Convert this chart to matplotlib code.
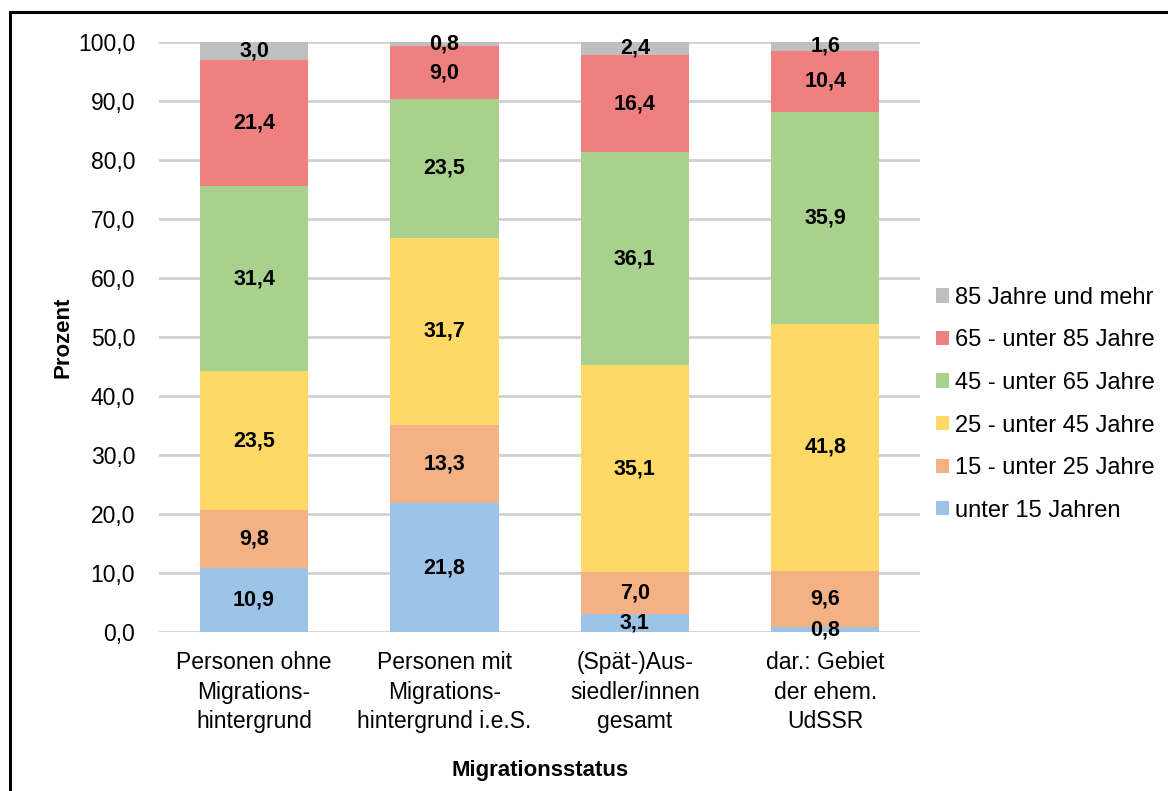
import numpy as np
import matplotlib
matplotlib.use("Agg")
import matplotlib.pyplot as plt
from matplotlib.lines import Line2D

plt.rcParams['font.family'] = ['Liberation Sans', 'DejaVu Sans']

# age structure by migration status (percent)
categories = ["Personen ohne\nMigrations-\nhintergrund",
              "Personen mit\nMigrations-\nhintergrund i.e.S.",
              "(Spät-)Aus-\nsiedler/innen\ngesamt",
              "dar.: Gebiet\nder ehem.\nUdSSR"]
age_groups = ["unter 15 Jahren", "15 - unter 25 Jahre", "25 - unter 45 Jahre",
              "45 - unter 65 Jahre", "65 - unter 85 Jahre", "85 Jahre und mehr"]
u15 = [10.9, 21.8, 3.1, 0.8]
a15_25 = [9.8, 13.3, 7.0, 9.6]
a25_45 = [23.5, 31.7, 35.1, 41.8]
a45_65 = [31.4, 23.5, 36.1, 35.9]
a65_85 = [21.4, 9.0, 16.4, 10.4]
a85 = [3.0, 0.8, 2.4, 1.6]
colors = ["#9DC3E6", "#F4B183", "#FFD966", "#A9D18E", "#F08080", "#BFBFBF"]

series = [u15, a15_25, a25_45, a45_65, a65_85, a85]

fig = plt.figure(figsize=(11.68, 7.91), dpi=100)
ax = fig.add_axes([0.136, 0.201, 0.652, 0.746])

x = np.arange(len(categories))
bottom = np.zeros(len(categories))
handles = []
for vals, col, name in zip(series, colors, age_groups):
    vals = np.array(vals)
    b = ax.bar(x, vals, 0.57, bottom=bottom, color=col, label=name, zorder=3)
    handles.append(b)
    for xi, v, bt in zip(x, vals, bottom):
        ax.text(xi, bt + v / 2, f"{v:.1f}".replace(".", ","), ha="center", va="center",
                fontsize=15.5, fontweight="bold", zorder=4)
    bottom += vals

ax.set_xlim(-0.5, 3.5)
ax.set_ylim(0, 100)
ax.set_yticks(np.arange(0, 101, 10))
ax.set_yticklabels([f"{t:.1f}".replace(".", ",") for t in np.arange(0, 101, 10)], fontsize=16.5)
ax.set_xticks(x)
ax.set_xticklabels(categories, fontsize=16.5, linespacing=1.36)
ax.tick_params(axis="x", length=0, pad=14)
ax.tick_params(axis="y", length=0, pad=17)
ax.yaxis.grid(True, color="#D0D0D0", linewidth=2, zorder=0)
for s in ax.spines.values():
    s.set_visible(False)

ax.set_ylabel("Prozent", fontsize=16, fontweight="bold", labelpad=3)
ax.set_xlabel("Migrationsstatus", fontsize=16, fontweight="bold", labelpad=19)

leg = ax.legend(handles[::-1], age_groups[::-1], loc="center left",
                bbox_to_anchor=(0.99, 0.386), frameon=False,
                fontsize=17, handlelength=0.55, handleheight=0.55, handletextpad=0.25,
                labelspacing=0.87, borderaxespad=0.6)

# outer frame (left and top edges)
fx, fy = 9.5 / 1168, 1 - 11.5 / 791
fig.add_artist(Line2D([fx, fx], [0, fy], transform=fig.transFigure, color="black",
                      linewidth=2.2, zorder=10))
fig.add_artist(Line2D([fx, 1], [fy, fy], transform=fig.transFigure, color="black",
                      linewidth=2.2, zorder=10))

fig.savefig("out.png", dpi=100)
